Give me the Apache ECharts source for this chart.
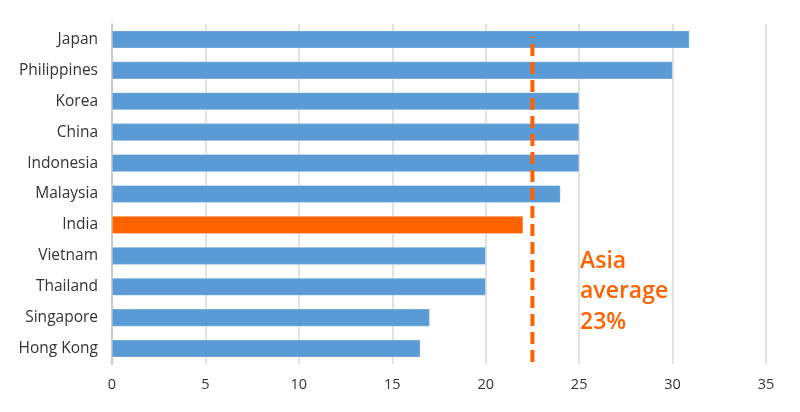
<!DOCTYPE html>
<html>
<head>
<meta charset="utf-8">
<script src="https://cdn.jsdelivr.net/npm/echarts@6/dist/echarts.min.js"></script>
<style>
  html, body { margin: 0; padding: 0; background: #fff; }
  #chart { width: 800px; height: 412px; }
</style>
</head>
<body>
<div id="chart"></div>
<script>
let countries = ['Japan', 'Philippines', 'Korea', 'China', 'Indonesia', 'Malaysia', 'India', 'Vietnam', 'Thailand', 'Singapore', 'Hong Kong'];
let values = [30.9, 30, 25, 25, 25, 24, 22, 20, 20, 17, 16.5];
let highlight = 'India';
let asiaAverage = 22.5;
let xTicks = [0, 5, 10, 15, 20, 25, 30, 35];

let blue = '#5B9BD5', orange = '#FF6200';
let font = '"Open Sans"';

let chart = echarts.init(document.getElementById('chart'));

let barData = countries.map(function (c, i) {
  return {
    value: values[i],
    itemStyle: { color: c === highlight ? orange : blue }
  };
});

let option = {
  animation: false,
  grid: { left: 112, right: 34, top: 24, bottom: 48 },
  xAxis: {
    type: 'value',
    min: xTicks[0],
    max: xTicks[xTicks.length - 1],
    interval: 5,
    axisLine: { show: false },
    axisTick: { show: false },
    axisLabel: { color: '#333', fontSize: 14.5, fontFamily: font, margin: 13 },
    splitLine: { lineStyle: { color: '#d9d9d9', width: 1.5 } }
  },
  yAxis: [{
    type: 'category',
    data: countries,
    inverse: true,
    axisLine: { lineStyle: { color: '#bfbfbf', width: 1.5 } },
    axisTick: { length: 4, lineStyle: { color: '#bfbfbf' } },
    axisLabel: { color: '#333', fontSize: 15.5, fontFamily: font, margin: 14, padding: [3, 0, 0, 0] }
  }, {
    type: 'value',
    min: 0,
    max: 1,
    show: false
  }],
  series: [{
    type: 'bar',
    data: barData,
    barCategoryGap: '43%',
    itemStyle: { borderColor: 'rgba(255,255,255,0.6)', borderWidth: 0.5 }
  }, {
    // Asia average reference line
    type: 'line',
    yAxisIndex: 1,
    data: [[asiaAverage, 0.006], [asiaAverage, 0.962]],
    symbol: 'none',
    lineStyle: { color: orange, width: 4, type: [12, 6] }
  }],
  graphic: [{
    type: 'text',
    left: 580,
    top: 246,
    style: {
      text: 'Asia\naverage\n23%',
      fill: orange,
      font: '600 23px ' + font,
      lineHeight: 30.5
    }
  }]
};

chart.setOption(option);
</script>
</body>
</html>
